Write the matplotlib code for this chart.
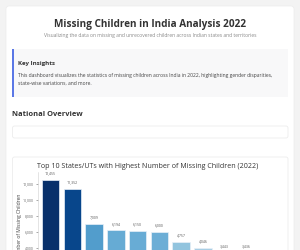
import numpy as np
import matplotlib
matplotlib.use('Agg')
from matplotlib import pyplot as plt
from matplotlib.patches import FancyBboxPatch, Rectangle

plt.rcParams['font.family'] = ['Open Sans', 'DejaVu Sans']

# data
states = ['S1', 'S2', 'S3', 'S4', 'S5', 'S6', 'S7', 'S8', 'S9', 'S10']
missing = [12455, 11352, 7009, 6194, 6150, 6000, 4757, 4046, 3443, 3436]
yticks = [4000, 6000, 8000, 10000, 12000]

title = 'Missing Children in India Analysis 2022'
subtitle = 'Visualizing the data on missing and unrecovered children across Indian states and territories'
insight_head = 'Key Insights'
insight_body = ('This dashboard visualizes the statistics of missing children across India in 2022, highlighting gender disparities,\n'
                'state-wise variations, and more.')
section = 'National Overview'
chart_title = 'Top 10 States/UTs with Highest Number of Missing Children (2022)'

W, H = 300, 250
fig = plt.figure(figsize=(W / 100, H / 100), dpi=100)
fig.patch.set_facecolor('#f3f3f3')

# page layer in pixel coordinates
bg = fig.add_axes([0, 0, 1, 1])
bg.set_xlim(0, W)
bg.set_ylim(H, 0)
bg.axis('off')

bg.add_patch(FancyBboxPatch((6, 6), 288, 270, boxstyle='round,pad=0,rounding_size=3',
                            fc='white', ec='#ececec', lw=0.5))
bg.text(150, 25, title, ha='center', va='center', fontsize=7.2, fontweight='bold', color='#333333')
bg.text(150, 35, subtitle, ha='center', va='center', fontsize=3.65, color='#8a8a8a')

bg.add_patch(Rectangle((12, 49), 276, 48, fc='#f8f8f9', ec='none'))
bg.add_patch(Rectangle((12, 49), 1.5, 48, fc='#5b78e6', ec='none'))
bg.text(18, 63, insight_head, ha='left', va='center', fontsize=4.4, fontweight='bold', color='#333333')
bg.text(18, 79.5, insight_body, ha='left', va='center', fontsize=3.6, color='#444444', linespacing=1.65)

bg.text(12, 114, section, ha='left', va='center', fontsize=5.4, fontweight='bold', color='#333333')
bg.add_patch(FancyBboxPatch((12.5, 126), 275.5, 12, boxstyle='round,pad=0,rounding_size=2',
                            fc='white', ec='#ececec', lw=0.6))
bg.add_patch(FancyBboxPatch((12.5, 157), 275.5, 120, boxstyle='round,pad=0,rounding_size=2',
                            fc='white', ec='#ececec', lw=0.6))
bg.text(148, 167, chart_title, ha='center', va='center', fontsize=5.1, color='#333333')

# chart: axes runs past the bottom edge of the picture
ax_left, ax_right, ax_top, ax_bottom = 37.5, 259.5, 172, 280
ax = fig.add_axes([ax_left / W, 1 - ax_bottom / H, (ax_right - ax_left) / W, (ax_bottom - ax_top) / H])
ax.patch.set_alpha(0)

vals = np.array(missing)
t = 0.3 + 0.7 * (vals - vals.min()) / (vals.max() - vals.min())
colors = plt.cm.Blues(t)
x = np.arange(len(states))
ax.bar(x, vals, width=0.8, color=colors, edgecolor='#e8f0f8', linewidth=0.5)
for xi, v in zip(x, vals):
    ax.annotate(f'{v:,}', (xi, v), xytext=(0, 3.5), textcoords='offset points',
                ha='center', va='bottom', fontsize=2.5, color='#555555')

ax.set_xlim(-0.6, len(states) - 0.4)
ax.set_ylim(0, 13500)
ax.set_yticks(yticks)
ax.set_yticklabels([f'{v:,}' for v in yticks])
ax.tick_params(axis='y', labelsize=2.5, colors='#666666', length=1.5, width=0.4, pad=1)
ax.tick_params(axis='x', bottom=False, labelbottom=False)
ax.set_ylabel('Number of Missing Children', fontsize=3.6, color='#444444', labelpad=1)
for s in ['top', 'right', 'bottom']:
    ax.spines[s].set_visible(False)
ax.spines['left'].set_color('#d0d0d0')
ax.spines['left'].set_linewidth(0.4)

fig.savefig('out.png', dpi=100, facecolor=fig.get_facecolor())
